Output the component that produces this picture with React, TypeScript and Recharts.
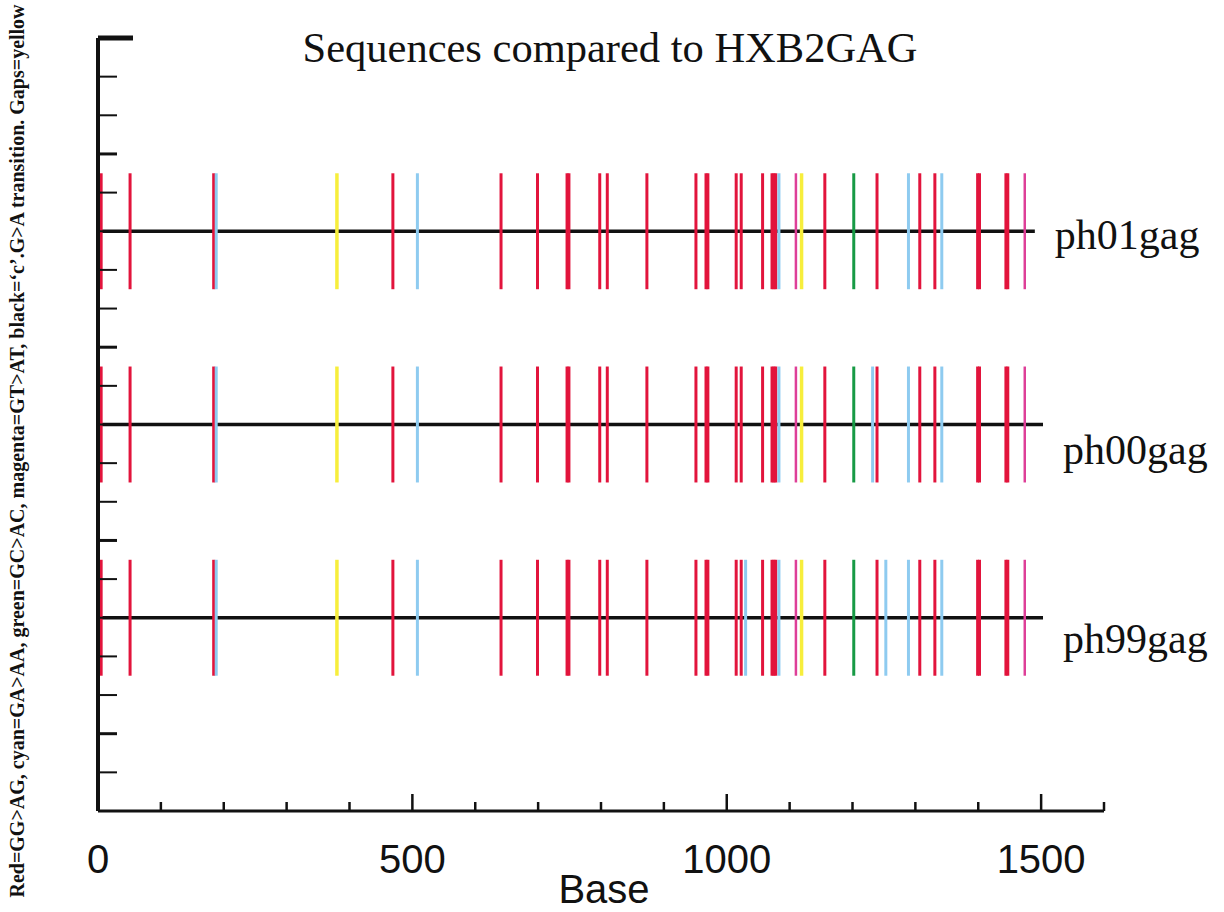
import { ComposedChart, XAxis, YAxis, Line, Scatter, ErrorBar, LabelList } from "recharts";

// sequences, top to bottom, and the level each one sits at on the y scale
const sequences = ["ph01gag", "ph00gag", "ph99gag"];
const rowLevel = [15, 10, 5];
const lineEnd = [1490, 1503, 1503];

// mutation sites (base position)
const redSites = [5, 51, 184, 469, 641, 699, 746, 749, 798, 810, 873, 951, 967, 970, 1015, 1023, 1057, 1072, 1075, 1078, 1156, 1239, 1307, 1331, 1399, 1402, 1444, 1447];
const cyanPh01 = [188, 508, 1083, 1289, 1342];
const cyanPh00 = [188, 508, 1083, 1232, 1289, 1342];
const cyanPh99 = [188, 508, 1030, 1083, 1253, 1289, 1342];
const yellowSites = [380, 1119];
const magentaSites = [1110, 1474];
const greenSites = [1202];

const xTicks = [0, 100, 200, 300, 400, 500, 600, 700, 800, 900, 1000, 1100, 1200, 1300, 1400, 1500, 1600];
const xLabels = [0, 500, 1000, 1500];
const yTicks = [0, 1, 2, 3, 4, 5, 6, 7, 8, 9, 10, 11, 12, 13, 14, 15, 16, 17, 18, 19, 20];

const BAR_HALF = 1.5;
const labelDy = [18, 39, 35];

const toPoints = (sitesPerRow: number[][]) =>
  sitesPerRow.flatMap((sites, i) => sites.map((x) => ({ x, y: rowLevel[i], err: BAR_HALF })));

const series = [
  { key: "red", color: "#e2143c", width: 3, data: toPoints([redSites, redSites, redSites]) },
  { key: "cyan", color: "#8ecbf0", width: 3, data: toPoints([cyanPh01, cyanPh00, cyanPh99]) },
  { key: "yellow", color: "#f7ee3c", width: 3.5, data: toPoints([yellowSites, yellowSites, yellowSites]) },
  { key: "magenta", color: "#de3f98", width: 2.5, data: toPoints([magentaSites, magentaSites, magentaSites]) },
  { key: "green", color: "#179a45", width: 3, data: toPoints([greenSites, greenSites, greenSites]) },
];

const serif = "'Liberation Serif', 'Times New Roman', serif";
const sans = "'Liberation Sans', Arial, sans-serif";

function XTick(props: any) {
  const { x, y, payload } = props;
  const v = payload.value;
  const major = v % 500 === 0;
  return (
    <g>
      {v > 0 && <line x1={x} x2={x} y1={y} y2={y - (major ? 17 : 9)} stroke="#111" strokeWidth={2.5} />}
      {xLabels.includes(v) && (
        <text x={x} y={y + 62} textAnchor="middle" fontFamily={sans} fontSize={40} fill="#111">
          {v}
        </text>
      )}
    </g>
  );
}

function YTick(props: any) {
  const { x, y, payload } = props;
  const v = payload.value;
  if (v === 0) return <g />;
  const top = v === 20;
  return <line x1={x} x2={x + (top ? 35 : 19)} y1={y} y2={y} stroke="#111" strokeWidth={top ? 5 : v % 5 === 2 ? 3 : 2} />;
}

export default function App() {
  return (
    <div style={{ position: "absolute", left: 0, top: 0, width: 1224, height: 912, background: "#fff" }}>
      <ComposedChart width={1224} height={912} margin={{ top: 38, right: 120, bottom: 41, left: 38 }}>
        <XAxis
          type="number"
          dataKey="x"
          domain={[0, 1600]}
          ticks={xTicks}
          interval={0}
          height={60}
          tickSize={0}
          tickMargin={0}
          tickLine={false}
          tick={<XTick />}
          axisLine={{ stroke: "#111", strokeWidth: 3 }}
        />
        <YAxis
          type="number"
          dataKey="y"
          domain={[0, 20]}
          ticks={yTicks}
          interval={0}
          width={60}
          tickSize={0}
          tickMargin={0}
          tickLine={false}
          tick={<YTick />}
          axisLine={{ stroke: "#111", strokeWidth: 4 }}
          allowDataOverflow
        />
        {sequences.map((name, i) => (
          <Line
            key={name}
            data={[
              { x: 0, y: rowLevel[i], name: "" },
              { x: lineEnd[i], y: rowLevel[i], name },
            ]}
            dataKey="y"
            stroke="#111"
            strokeWidth={3.5}
            dot={false}
            isAnimationActive={false}
          >
            <LabelList
              dataKey="name"
              content={(p: any) =>
                p.value ? (
                  <text x={p.x + 20} y={p.y + labelDy[i]} fontFamily={serif} fontSize={42} fill="#111">
                    {p.value}
                  </text>
                ) : null
              }
            />
          </Line>
        ))}
        {series.map((s) => (
          <Scatter key={s.key} data={s.data} dataKey="y" shape={() => <g />} isAnimationActive={false}>
            <ErrorBar dataKey="err" direction="y" width={0} stroke={s.color} strokeWidth={s.width} isAnimationActive={false} />
          </Scatter>
        ))}
      </ComposedChart>
      <svg width={1224} height={912} style={{ position: "absolute", left: 0, top: 0, pointerEvents: "none" }}>
        <text x={610} y={62} textAnchor="middle" fontFamily={serif} fontSize={42.5} fill="#111">
          Sequences compared to HXB2GAG
        </text>
        <text x={604} y={903} textAnchor="middle" fontFamily={sans} fontSize={40} fill="#111">
          Base
        </text>
        <text
          transform="translate(24,451) rotate(-90)"
          textAnchor="middle"
          fontFamily={serif}
          fontWeight="bold"
          fontSize={20}
          fill="#111"
        >
          Red=GG&gt;AG, cyan=GA&gt;AA, green=GC&gt;AC, magenta=GT&gt;AT, black=‘c’.G&gt;A transition. Gaps=yellow
        </text>
      </svg>
    </div>
  );
}
